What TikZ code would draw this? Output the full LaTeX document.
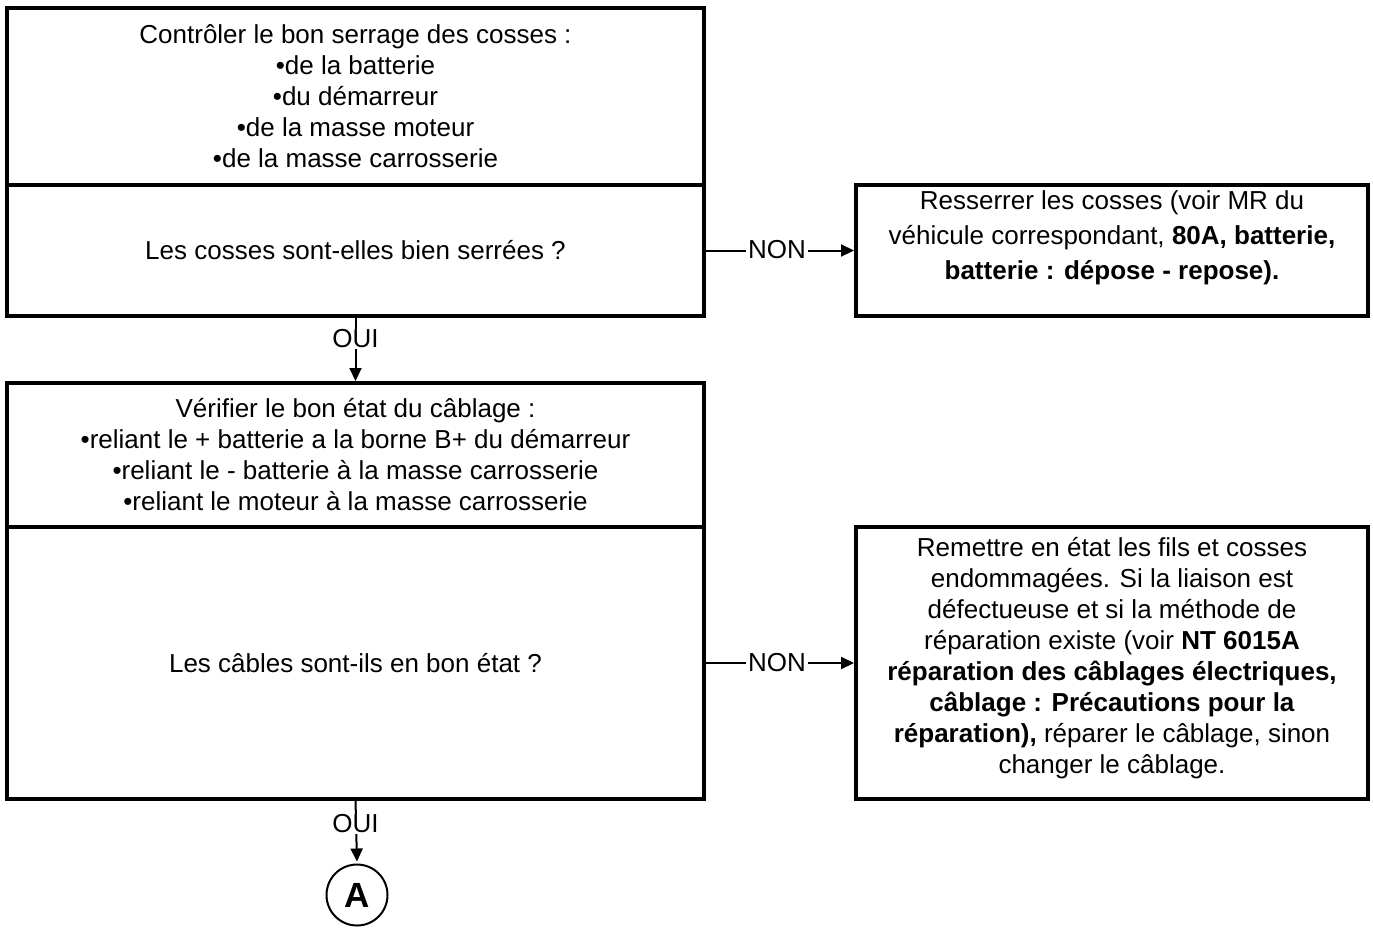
\documentclass[tikz,border=0pt]{standalone}
\usepackage{fontspec}
\setmainfont{Liberation Sans}
\usetikzlibrary{arrows.meta}
\begin{document}
\begin{tikzpicture}[x=1pt,y=-1pt,
  box/.style={draw, rectangle, line width=3.5pt, inner sep=0pt, outer sep=0pt,
              align=center, font=\fontsize{26}{31}\selectfont},
  txt/.style={inner sep=0pt, align=center, font=\fontsize{26}{31}\selectfont},
  conn/.style={line width=2pt, -{Triangle[length=13pt,width=12pt]}, shorten >=2pt},
  lbl/.style={fill=white, inner xsep=2pt, inner ysep=3pt, font=\fontsize{26}{31}\selectfont},
  endpt/.style={draw, circle, line width=2pt, minimum size=61pt, inner sep=0pt,
                font=\fontsize{35}{40}\selectfont\bfseries}
]
\fill[white] (0,0) rectangle (1373,927);
\useasboundingbox (0,0) rectangle (1373,927);

% first check: tightening of the cable lugs
\node[box, minimum width=697pt, minimum height=177pt] (b1top) at (355.5,96.5)
  {Contrôler le bon serrage des cosses :\\
   •de la batterie\\
   •du démarreur\\
   •de la masse moteur\\
   •de la masse carrosserie};
\node[box, minimum width=697pt, minimum height=131pt] (b1bot) at (355.5,250.5)
  {Les cosses sont-elles bien serrées ?};

% corrective action for the lugs
\node[box, minimum width=512pt, minimum height=131pt] (b2) at (1112,250.5) {};
\node[txt, font=\fontsize{26}{35}\selectfont] (t2) at (1112,238)
  {Resserrer les cosses (voir MR du\\
   véhicule correspondant, \textbf{80A, batterie,}\\
   \textbf{batterie : dépose - repose).}};

% second check: state of the wiring
\node[box, minimum width=697pt, minimum height=144pt] (b3top) at (355.5,455)
  {Vérifier le bon état du câblage :\\
   •reliant le + batterie a la borne B+ du démarreur\\
   •reliant le - batterie à la masse carrosserie\\
   •reliant le moteur à la masse carrosserie};
\node[box, minimum width=697pt, minimum height=272pt] (b3bot) at (355.5,663)
  {Les câbles sont-ils en bon état ?};

% corrective action for the wiring
\node[box, minimum width=512pt, minimum height=272pt] (b4) at (1112,663) {};
\node[txt] (t4) at (1112,658)
  {Remettre en état les fils et cosses\\
   endommagées. Si la liaison est\\
   défectueuse et si la méthode de\\
   réparation existe (voir \textbf{NT 6015A}\\
   \textbf{réparation des câblages électriques,}\\
   \textbf{câblage : Précautions pour la}\\
   \textbf{réparation),} réparer le câblage, sinon\\
   changer le câblage.};

% connector to the next page
\node[endpt] (A) at (357,895) {A};

% connectors
\draw[conn] (b1bot.east) -- (b1bot.east -| b2.west);
\node[lbl] at (777,250) {NON};
\draw[conn] (b3bot.east) -- (b3bot.east -| b4.west);
\node[lbl] at (777,663) {NON};

\draw[conn] (b1bot.south) -- (b3top.north);
\node[lbl, inner ysep=1pt] at (355.5,339) {OUI};
\draw[conn] (b3bot.south) -- (A.north);
\node[lbl, inner ysep=1pt] at (355.5,824) {OUI};
\end{tikzpicture}
\end{document}
